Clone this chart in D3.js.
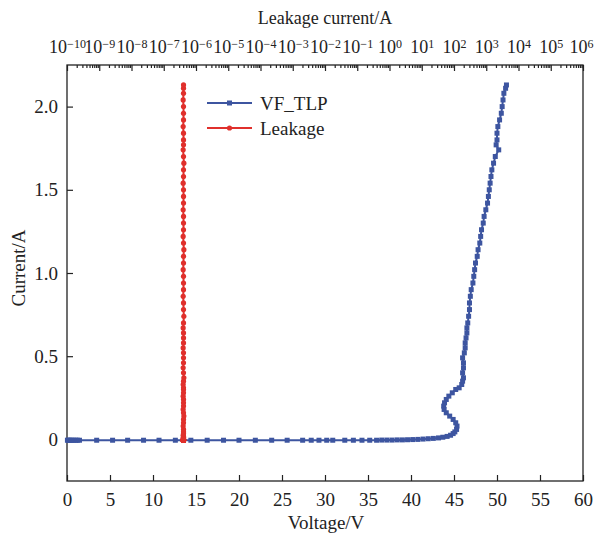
<!DOCTYPE html>
<html>
<head>
<meta charset="utf-8">
<script src="https://cdn.jsdelivr.net/npm/d3@7"></script>
<style>
body { margin: 0; background: #fff; }
text { font-family: "Liberation Serif", "Times New Roman", serif; fill: #222; }
</style>
</head>
<body>
<svg id="chart" width="594" height="538"></svg>
<script>
// TLP pulse data: voltage (V), current (A) and leakage current after each pulse (A)
const tlpVoltage = [
    0.05, 0.15, 0.3, 0.45, 0.6, 0.8, 1.0, 1.2, 1.45, 3.45,
    5.3, 7.05, 8.9, 10.7, 12.6, 14.4, 16.3, 18.2, 20.0, 21.9,
    23.8, 25.6, 27.4, 28.4, 29.3, 30.2, 30.9, 32.3, 33.3, 34.3,
    35.2, 36.0, 36.6, 37.2, 37.8, 38.4, 39.0, 39.6, 40.2, 40.8,
    41.4, 42.0, 42.6, 43.2, 43.7, 44.2, 44.6, 44.9, 45.1,
    45.3, 45.35, 45.2, 44.9, 44.5, 44.1, 43.85, 43.8, 43.9, 44.1,
    44.4, 44.8, 45.2, 45.6, 45.9, 46.0, 46.1, 46.0, 46.1, 46.1,
    46.0, 46.2, 46.3, 46.3, 46.4, 46.5, 46.5, 46.6, 46.7, 46.8,
    46.8, 46.9, 47.0, 47.2, 47.3, 47.4, 47.5, 47.7, 47.8, 48.0,
    48.1, 48.2, 48.4, 48.5, 48.7, 48.9, 49.0, 49.1, 49.2, 49.3,
    49.4, 49.6, 49.8, 50.2, 49.9, 50.0, 50.0, 50.1, 50.3, 50.5,
    50.6, 50.7, 50.8, 51.0, 51.1
];
const tlpCurrent = [
    -0.005, -0.005, -0.005, -0.005, -0.005, -0.005, -0.005, -0.005, -0.005, -0.005,
    -0.005, -0.005, -0.005, -0.005, -0.005, -0.005, -0.005, -0.005, -0.005, -0.005,
    -0.005, -0.005, -0.005, -0.005, -0.005, -0.005, -0.005, -0.005, -0.005, -0.005,
    -0.005, -0.005, -0.004, -0.004, -0.004, -0.003, -0.003, -0.002, -0.001, 0.0,
    0.002, 0.004, 0.006, 0.009, 0.013, 0.018, 0.025, 0.035, 0.045,
    0.06, 0.08, 0.10, 0.12, 0.14, 0.16, 0.18, 0.20, 0.22, 0.24,
    0.26, 0.28, 0.30, 0.31, 0.33, 0.35, 0.37, 0.40, 0.43, 0.46,
    0.49, 0.52, 0.55, 0.58, 0.61, 0.64, 0.67, 0.70, 0.74, 0.78,
    0.82, 0.86, 0.90, 0.94, 0.98, 1.02, 1.06, 1.10, 1.14, 1.18,
    1.22, 1.26, 1.30, 1.34, 1.38, 1.42, 1.46, 1.50, 1.54, 1.58,
    1.62, 1.66, 1.70, 1.74, 1.77, 1.80, 1.84, 1.88, 1.92, 1.96,
    2.00, 2.04, 2.08, 2.11, 2.13
];
const leakage = [
    4.1e-7, 4.1e-7, 4.0e-7, 4.1e-7, 4.1e-7, 4.0e-7, 4.1e-7, 4.1e-7, 4.1e-7, 4.0e-7,
    4.1e-7, 4.1e-7, 4.0e-7, 4.1e-7, 4.1e-7, 4.1e-7, 4.0e-7, 4.1e-7, 4.1e-7, 4.1e-7,
    4.0e-7, 4.1e-7, 4.1e-7, 4.1e-7, 4.0e-7, 4.1e-7, 4.1e-7, 4.0e-7, 4.1e-7, 4.1e-7,
    4.1e-7, 4.0e-7, 4.1e-7, 4.1e-7, 4.1e-7, 4.0e-7, 4.1e-7, 4.1e-7, 4.1e-7, 4.0e-7,
    4.1e-7, 4.1e-7, 4.0e-7, 4.1e-7, 4.1e-7, 4.1e-7, 4.0e-7, 4.1e-7, 4.1e-7,
    4.1e-7, 4.0e-7, 4.1e-7, 4.1e-7, 4.2e-7, 4.1e-7, 4.0e-7, 4.1e-7, 4.1e-7, 4.1e-7,
    4.0e-7, 4.1e-7, 4.1e-7, 4.1e-7, 4.0e-7, 4.1e-7, 4.2e-7, 4.1e-7, 4.0e-7, 4.1e-7,
    4.1e-7, 4.1e-7, 4.0e-7, 4.1e-7, 4.1e-7, 4.1e-7, 4.0e-7, 4.1e-7, 4.2e-7, 4.1e-7,
    4.1e-7, 4.0e-7, 4.1e-7, 4.1e-7, 4.1e-7, 4.0e-7, 4.1e-7, 4.1e-7, 4.2e-7, 4.1e-7,
    4.0e-7, 4.1e-7, 4.1e-7, 4.1e-7, 4.0e-7, 4.1e-7, 4.1e-7, 4.1e-7, 4.0e-7, 4.1e-7,
    4.1e-7, 4.2e-7, 4.1e-7, 4.0e-7, 4.1e-7, 4.1e-7, 4.1e-7, 4.0e-7, 4.1e-7, 4.1e-7,
    4.1e-7, 4.0e-7, 4.1e-7, 4.1e-7, 4.1e-7
];
const voltageTicks = d3.range(0, 61, 5);
const currentTicks = [0, 0.5, 1.0, 1.5, 2.0];
const leakageExponents = d3.range(-10, 7);
const seriesNames = ["VF_TLP", "Leakage"];

const blue = "#3d55a0", red = "#e0302c";
const mLeft = 67, mRight = 583, mTop = 65, mBottom = 481;

const svg = d3.select("#chart");

const x = d3.scaleLinear().domain([0, 60]).range([mLeft, mRight]);
const y = d3.scaleLinear().domain([-0.25, 2.25]).range([mBottom, mTop]);
const xTop = d3.scaleLog().domain([1e-10, 1e6]).range([mLeft, mRight]);

// frame
svg.append("rect")
    .attr("x", mLeft).attr("y", mTop)
    .attr("width", mRight - mLeft).attr("height", mBottom - mTop)
    .attr("fill", "none").attr("stroke", "#222").attr("stroke-width", 1.3);

// bottom axis (ticks inward)
const gx = svg.append("g").attr("transform", `translate(0,${mBottom})`)
    .call(d3.axisBottom(x).tickValues(voltageTicks).tickSizeInner(-6).tickSizeOuter(0).tickPadding(12));
gx.selectAll("text").attr("font-size", "19px");

// left axis
const gy = svg.append("g").attr("transform", `translate(${mLeft},0)`)
    .call(d3.axisLeft(y).tickValues(currentTicks).tickSizeInner(-6).tickSizeOuter(0).tickPadding(9)
        .tickFormat(d => d === 0 ? "0" : d3.format(".1f")(d)));
gy.selectAll("text").attr("font-size", "19px");

// top log axis: minor ticks, then major ticks with 10^n labels
const minorTicks = [];
leakageExponents.slice(0, -1).forEach(e => {
    for (let m = 2; m < 10; m++) minorTicks.push(m * Math.pow(10, e));
});
const gm = svg.append("g").attr("transform", `translate(0,${mTop})`)
    .call(d3.axisTop(xTop).tickValues(minorTicks).tickSizeInner(-3).tickSizeOuter(0).tickFormat(""));

const gt = svg.append("g").attr("transform", `translate(0,${mTop})`)
    .call(d3.axisTop(xTop).tickValues(leakageExponents.map(e => Math.pow(10, e)))
        .tickSizeInner(-6).tickSizeOuter(0).tickPadding(12));
gt.selectAll("text").each(function(d) {
    const t = d3.select(this).text("").attr("font-size", "18px");
    const e = Math.round(Math.log10(d));
    t.append("tspan").text("10");
    t.append("tspan").attr("font-size", "12px").attr("dy", "-0.45em")
        .text(e < 0 ? "\u2212" + Math.abs(e) : String(e));
});
// last label sits against the page edge
gt.selectAll(".tick").filter(d => d === 1e6).select("text").attr("text-anchor", "end").attr("x", 10);

[gx, gy, gt, gm].forEach(g => {
    g.select(".domain").remove();
    g.selectAll("line").attr("stroke", "#222").attr("stroke-width", 1.2);
});

// axis titles
svg.append("text").attr("x", 325).attr("y", 24).attr("text-anchor", "middle")
    .attr("font-size", "18px").text("Leakage current/A");
svg.append("text").attr("x", 326).attr("y", 529).attr("text-anchor", "middle")
    .attr("font-size", "19px").text("Voltage/V");
svg.append("text").attr("transform", "translate(25,268) rotate(-90)").attr("text-anchor", "middle")
    .attr("font-size", "19px").text("Current/A");

const tlp = tlpVoltage.map((v, i) => ({ v: v, i: tlpCurrent[i] }));
const leak = leakage.map((l, i) => ({ l: l, i: tlpCurrent[i] }));

// VF_TLP curve
svg.append("path").datum(tlp)
    .attr("fill", "none").attr("stroke", blue).attr("stroke-width", 2)
    .attr("d", d3.line().x(d => x(d.v)).y(d => y(d.i)));
svg.append("g").selectAll("rect").data(tlp).enter().append("rect")
    .attr("x", d => x(d.v) - 2.5).attr("y", d => y(d.i) - 2.5)
    .attr("width", 5).attr("height", 5).attr("fill", blue);

// Leakage curve (against top axis)
svg.append("path").datum(leak)
    .attr("fill", "none").attr("stroke", red).attr("stroke-width", 2)
    .attr("d", d3.line().x(d => xTop(d.l)).y(d => y(d.i)));
svg.append("g").selectAll("circle").data(leak).enter().append("circle")
    .attr("cx", d => xTop(d.l)).attr("cy", d => y(d.i)).attr("r", 2.6).attr("fill", red);

// legend
const legend = svg.append("g");
seriesNames.forEach((name, k) => {
    const ly = 103 + k * 25;
    const col = k === 0 ? blue : red;
    legend.append("line").attr("x1", 207).attr("x2", 252).attr("y1", ly).attr("y2", ly)
        .attr("stroke", col).attr("stroke-width", 2);
    if (k === 0) {
        legend.append("rect").attr("x", 227).attr("y", ly - 2.5).attr("width", 5).attr("height", 5).attr("fill", col);
    } else {
        legend.append("circle").attr("cx", 229.5).attr("cy", ly).attr("r", 2.6).attr("fill", col);
    }
    legend.append("text").attr("x", 260).attr("y", ly + 7).attr("font-size", "19px").text(name);
});
</script>
</body>
</html>
